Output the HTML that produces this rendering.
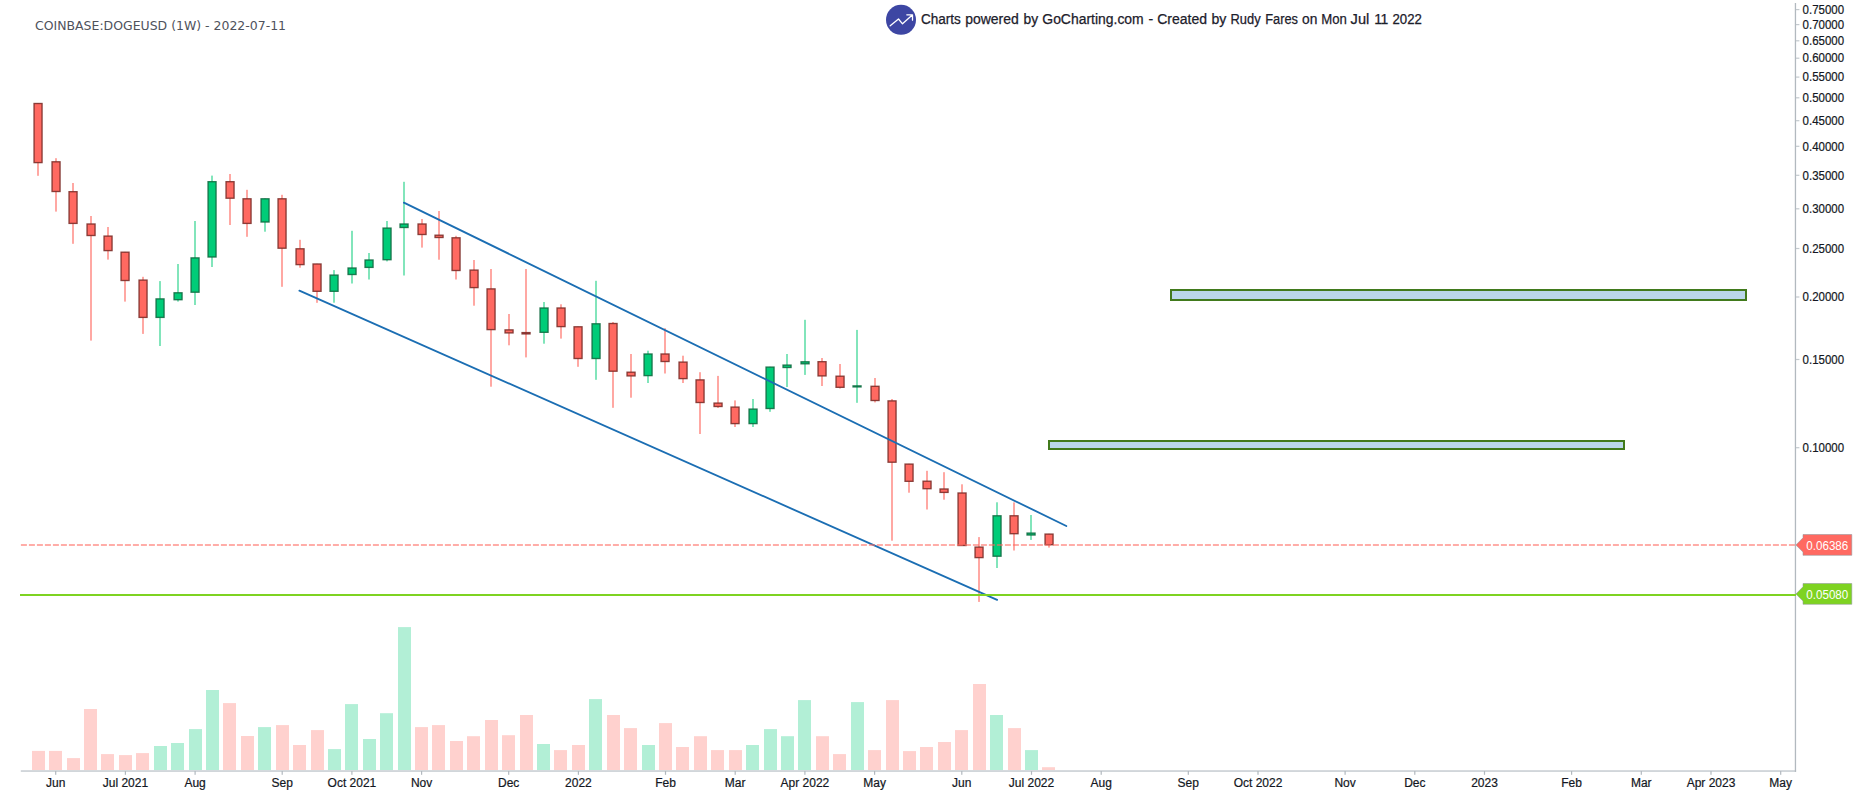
<!DOCTYPE html>
<html lang="en"><head><meta charset="utf-8"><title>COINBASE:DOGEUSD (1W) - 2022-07-11</title>
<style>
html,body{margin:0;padding:0;background:#fff;}
body{width:1856px;height:804px;overflow:hidden;position:relative;}
svg{position:absolute;left:0;top:0;display:block;}
.ax{font-family:"Liberation Sans",sans-serif;font-size:12px;fill:#131722;stroke:#131722;stroke-width:0.2px;}
.hd{font-family:"Liberation Sans",sans-serif;font-size:14px;fill:#1c202b;stroke:#1c202b;stroke-width:0.25px;}
.tt{font-family:"DejaVu Sans","Liberation Sans",sans-serif;font-size:12px;fill:#4f525c;}
.tg{font-family:"Liberation Sans",sans-serif;font-size:12px;fill:#fff;}
</style></head><body>
<svg width="1856" height="804" viewBox="0 0 1856 804">
<rect x="0" y="0" width="1856" height="804" fill="#ffffff"/>

<g id="volume">
<rect x="32.0" y="750.9" width="13" height="19.3" fill="#ffd1ce"/>
<rect x="49.0" y="750.9" width="13" height="19.3" fill="#ffd1ce"/>
<rect x="67.0" y="758.1" width="13" height="12.1" fill="#ffd1ce"/>
<rect x="84.0" y="709.0" width="13" height="61.2" fill="#ffd1ce"/>
<rect x="101.0" y="754.1" width="13" height="16.1" fill="#ffd1ce"/>
<rect x="119.0" y="755.1" width="13" height="15.1" fill="#ffd1ce"/>
<rect x="136.0" y="753.1" width="13" height="17.1" fill="#ffd1ce"/>
<rect x="154.0" y="746.0" width="13" height="24.2" fill="#b2efd6"/>
<rect x="171.0" y="743.0" width="13" height="27.2" fill="#b2efd6"/>
<rect x="189.0" y="729.1" width="13" height="41.1" fill="#b2efd6"/>
<rect x="206.0" y="690.0" width="13" height="80.2" fill="#b2efd6"/>
<rect x="223.0" y="703.1" width="13" height="67.1" fill="#ffd1ce"/>
<rect x="241.0" y="736.0" width="13" height="34.2" fill="#ffd1ce"/>
<rect x="258.0" y="727.1" width="13" height="43.1" fill="#b2efd6"/>
<rect x="276.0" y="725.1" width="13" height="45.1" fill="#ffd1ce"/>
<rect x="293.0" y="745.0" width="13" height="25.2" fill="#ffd1ce"/>
<rect x="311.0" y="730.1" width="13" height="40.1" fill="#ffd1ce"/>
<rect x="328.0" y="749.1" width="13" height="21.1" fill="#b2efd6"/>
<rect x="345.0" y="704.1" width="13" height="66.1" fill="#b2efd6"/>
<rect x="363.0" y="739.0" width="13" height="31.2" fill="#b2efd6"/>
<rect x="380.0" y="713.2" width="13" height="57.0" fill="#b2efd6"/>
<rect x="398.0" y="627.1" width="13" height="143.1" fill="#b2efd6"/>
<rect x="415.0" y="727.1" width="13" height="43.1" fill="#ffd1ce"/>
<rect x="432.0" y="725.1" width="13" height="45.1" fill="#ffd1ce"/>
<rect x="450.0" y="741.0" width="13" height="29.2" fill="#ffd1ce"/>
<rect x="467.0" y="736.2" width="13" height="34.0" fill="#ffd1ce"/>
<rect x="485.0" y="720.0" width="13" height="50.2" fill="#ffd1ce"/>
<rect x="502.0" y="735.2" width="13" height="35.0" fill="#ffd1ce"/>
<rect x="520.0" y="715.0" width="13" height="55.2" fill="#ffd1ce"/>
<rect x="537.0" y="744.0" width="13" height="26.2" fill="#b2efd6"/>
<rect x="554.0" y="750.1" width="13" height="20.1" fill="#ffd1ce"/>
<rect x="572.0" y="745.0" width="13" height="25.2" fill="#ffd1ce"/>
<rect x="589.0" y="699.1" width="13" height="71.1" fill="#b2efd6"/>
<rect x="607.0" y="715.0" width="13" height="55.2" fill="#ffd1ce"/>
<rect x="624.0" y="728.1" width="13" height="42.1" fill="#ffd1ce"/>
<rect x="642.0" y="745.0" width="13" height="25.2" fill="#b2efd6"/>
<rect x="659.0" y="723.1" width="13" height="47.1" fill="#ffd1ce"/>
<rect x="676.0" y="747.0" width="13" height="23.2" fill="#ffd1ce"/>
<rect x="694.0" y="736.2" width="13" height="34.0" fill="#ffd1ce"/>
<rect x="711.0" y="750.1" width="13" height="20.1" fill="#ffd1ce"/>
<rect x="729.0" y="750.1" width="13" height="20.1" fill="#ffd1ce"/>
<rect x="746.0" y="745.0" width="13" height="25.2" fill="#b2efd6"/>
<rect x="764.0" y="729.1" width="13" height="41.1" fill="#b2efd6"/>
<rect x="781.0" y="736.2" width="13" height="34.0" fill="#b2efd6"/>
<rect x="798.0" y="700.1" width="13" height="70.1" fill="#b2efd6"/>
<rect x="816.0" y="736.2" width="13" height="34.0" fill="#ffd1ce"/>
<rect x="833.0" y="754.1" width="13" height="16.1" fill="#ffd1ce"/>
<rect x="851.0" y="702.1" width="13" height="68.1" fill="#b2efd6"/>
<rect x="868.0" y="750.1" width="13" height="20.1" fill="#ffd1ce"/>
<rect x="886.0" y="700.1" width="13" height="70.1" fill="#ffd1ce"/>
<rect x="903.0" y="751.1" width="13" height="19.1" fill="#ffd1ce"/>
<rect x="920.0" y="747.0" width="13" height="23.2" fill="#ffd1ce"/>
<rect x="938.0" y="742.0" width="13" height="28.2" fill="#ffd1ce"/>
<rect x="955.0" y="730.1" width="13" height="40.1" fill="#ffd1ce"/>
<rect x="973.0" y="684.0" width="13" height="86.2" fill="#ffd1ce"/>
<rect x="990.0" y="715.0" width="13" height="55.2" fill="#b2efd6"/>
<rect x="1008.0" y="728.1" width="13" height="42.1" fill="#ffd1ce"/>
<rect x="1025.0" y="750.1" width="13" height="20.1" fill="#b2efd6"/>
<rect x="1042.0" y="767.2" width="13" height="3.0" fill="#ffd1ce"/>
</g>
<g id="axes">
<rect x="20.8" y="770.2" width="1775.3" height="1.7" fill="#ccd2d6"/>
<rect x="1794.8" y="3" width="1.3" height="768.9" fill="#b2b9bf"/>
</g>
<g id="xaxis">
<rect x="55.1" y="771" width="1.2" height="3.8" fill="#b2b9bf"/>
<text class="ax" x="55.7" y="787" text-anchor="middle">Jun</text>
<rect x="124.8" y="771" width="1.2" height="3.8" fill="#b2b9bf"/>
<text class="ax" x="125.4" y="787" text-anchor="middle">Jul 2021</text>
<rect x="194.5" y="771" width="1.2" height="3.8" fill="#b2b9bf"/>
<text class="ax" x="195.1" y="787" text-anchor="middle">Aug</text>
<rect x="281.6" y="771" width="1.2" height="3.8" fill="#b2b9bf"/>
<text class="ax" x="282.2" y="787" text-anchor="middle">Sep</text>
<rect x="351.3" y="771" width="1.2" height="3.8" fill="#b2b9bf"/>
<text class="ax" x="351.9" y="787" text-anchor="middle">Oct 2021</text>
<rect x="421.0" y="771" width="1.2" height="3.8" fill="#b2b9bf"/>
<text class="ax" x="421.6" y="787" text-anchor="middle">Nov</text>
<rect x="508.1" y="771" width="1.2" height="3.8" fill="#b2b9bf"/>
<text class="ax" x="508.7" y="787" text-anchor="middle">Dec</text>
<rect x="577.8" y="771" width="1.2" height="3.8" fill="#b2b9bf"/>
<text class="ax" x="578.4" y="787" text-anchor="middle">2022</text>
<rect x="664.9" y="771" width="1.2" height="3.8" fill="#b2b9bf"/>
<text class="ax" x="665.5" y="787" text-anchor="middle">Feb</text>
<rect x="734.6" y="771" width="1.2" height="3.8" fill="#b2b9bf"/>
<text class="ax" x="735.2" y="787" text-anchor="middle">Mar</text>
<rect x="804.3" y="771" width="1.2" height="3.8" fill="#b2b9bf"/>
<text class="ax" x="804.9" y="787" text-anchor="middle">Apr 2022</text>
<rect x="874.0" y="771" width="1.2" height="3.8" fill="#b2b9bf"/>
<text class="ax" x="874.6" y="787" text-anchor="middle">May</text>
<rect x="961.2" y="771" width="1.2" height="3.8" fill="#b2b9bf"/>
<text class="ax" x="961.8" y="787" text-anchor="middle">Jun</text>
<rect x="1030.9" y="771" width="1.2" height="3.8" fill="#b2b9bf"/>
<text class="ax" x="1031.5" y="787" text-anchor="middle">Jul 2022</text>
<rect x="1100.6" y="771" width="1.2" height="3.8" fill="#b2b9bf"/>
<text class="ax" x="1101.2" y="787" text-anchor="middle">Aug</text>
<rect x="1187.7" y="771" width="1.2" height="3.8" fill="#b2b9bf"/>
<text class="ax" x="1188.3" y="787" text-anchor="middle">Sep</text>
<rect x="1257.4" y="771" width="1.2" height="3.8" fill="#b2b9bf"/>
<text class="ax" x="1258.0" y="787" text-anchor="middle">Oct 2022</text>
<rect x="1344.5" y="771" width="1.2" height="3.8" fill="#b2b9bf"/>
<text class="ax" x="1345.1" y="787" text-anchor="middle">Nov</text>
<rect x="1414.2" y="771" width="1.2" height="3.8" fill="#b2b9bf"/>
<text class="ax" x="1414.8" y="787" text-anchor="middle">Dec</text>
<rect x="1483.9" y="771" width="1.2" height="3.8" fill="#b2b9bf"/>
<text class="ax" x="1484.5" y="787" text-anchor="middle">2023</text>
<rect x="1571.0" y="771" width="1.2" height="3.8" fill="#b2b9bf"/>
<text class="ax" x="1571.6" y="787" text-anchor="middle">Feb</text>
<rect x="1640.7" y="771" width="1.2" height="3.8" fill="#b2b9bf"/>
<text class="ax" x="1641.3" y="787" text-anchor="middle">Mar</text>
<rect x="1710.4" y="771" width="1.2" height="3.8" fill="#b2b9bf"/>
<text class="ax" x="1711.0" y="787" text-anchor="middle">Apr 2023</text>
<rect x="1780.1" y="771" width="1.2" height="3.8" fill="#b2b9bf"/>
<text class="ax" x="1780.7" y="787" text-anchor="middle">May</text>
</g>
<g id="yaxis">
<rect x="1796" y="9.0" width="3.4" height="1.2" fill="#c3c9ce"/>
<text class="ax" x="1802.6" y="13.8" textLength="41.5" lengthAdjust="spacingAndGlyphs">0.75000</text>
<rect x="1796" y="24.0" width="3.4" height="1.2" fill="#c3c9ce"/>
<text class="ax" x="1802.6" y="28.8" textLength="41.5" lengthAdjust="spacingAndGlyphs">0.70000</text>
<rect x="1796" y="40.2" width="3.4" height="1.2" fill="#c3c9ce"/>
<text class="ax" x="1802.6" y="45.0" textLength="41.5" lengthAdjust="spacingAndGlyphs">0.65000</text>
<rect x="1796" y="57.6" width="3.4" height="1.2" fill="#c3c9ce"/>
<text class="ax" x="1802.6" y="62.4" textLength="41.5" lengthAdjust="spacingAndGlyphs">0.60000</text>
<rect x="1796" y="76.5" width="3.4" height="1.2" fill="#c3c9ce"/>
<text class="ax" x="1802.6" y="81.3" textLength="41.5" lengthAdjust="spacingAndGlyphs">0.55000</text>
<rect x="1796" y="97.2" width="3.4" height="1.2" fill="#c3c9ce"/>
<text class="ax" x="1802.6" y="102.0" textLength="41.5" lengthAdjust="spacingAndGlyphs">0.50000</text>
<rect x="1796" y="120.1" width="3.4" height="1.2" fill="#c3c9ce"/>
<text class="ax" x="1802.6" y="124.9" textLength="41.5" lengthAdjust="spacingAndGlyphs">0.45000</text>
<rect x="1796" y="145.7" width="3.4" height="1.2" fill="#c3c9ce"/>
<text class="ax" x="1802.6" y="150.5" textLength="41.5" lengthAdjust="spacingAndGlyphs">0.40000</text>
<rect x="1796" y="174.7" width="3.4" height="1.2" fill="#c3c9ce"/>
<text class="ax" x="1802.6" y="179.5" textLength="41.5" lengthAdjust="spacingAndGlyphs">0.35000</text>
<rect x="1796" y="208.2" width="3.4" height="1.2" fill="#c3c9ce"/>
<text class="ax" x="1802.6" y="213.0" textLength="41.5" lengthAdjust="spacingAndGlyphs">0.30000</text>
<rect x="1796" y="247.9" width="3.4" height="1.2" fill="#c3c9ce"/>
<text class="ax" x="1802.6" y="252.7" textLength="41.5" lengthAdjust="spacingAndGlyphs">0.25000</text>
<rect x="1796" y="296.4" width="3.4" height="1.2" fill="#c3c9ce"/>
<text class="ax" x="1802.6" y="301.2" textLength="41.5" lengthAdjust="spacingAndGlyphs">0.20000</text>
<rect x="1796" y="358.9" width="3.4" height="1.2" fill="#c3c9ce"/>
<text class="ax" x="1802.6" y="363.7" textLength="41.5" lengthAdjust="spacingAndGlyphs">0.15000</text>
<rect x="1796" y="447.1" width="3.4" height="1.2" fill="#c3c9ce"/>
<text class="ax" x="1802.6" y="451.9" textLength="41.5" lengthAdjust="spacingAndGlyphs">0.10000</text>
</g>
<g id="zones">
<rect x="1171" y="290" width="575" height="10" fill="#bad7ea" stroke="#417a1c" stroke-width="2"/>
<rect x="1049" y="441" width="575" height="8" fill="#bad7ea" stroke="#417a1c" stroke-width="2"/>
</g>
<g id="candles">
<rect x="37" y="103.2" width="2" height="72.6" fill="#ffa8a3"/>
<rect x="34.05" y="103.5" width="8.0" height="59.1" fill="#ff6961" stroke="#7a2b27" stroke-opacity="0.88" stroke-width="1.35"/>
<rect x="55" y="158.2" width="2" height="53.4" fill="#ffa8a3"/>
<rect x="52.05" y="161.8" width="8.0" height="29.7" fill="#ff6961" stroke="#7a2b27" stroke-opacity="0.88" stroke-width="1.35"/>
<rect x="72" y="183.0" width="2" height="60.8" fill="#ffa8a3"/>
<rect x="69.05" y="191.7" width="8.0" height="31.7" fill="#ff6961" stroke="#7a2b27" stroke-opacity="0.88" stroke-width="1.35"/>
<rect x="90" y="216.0" width="2" height="124.6" fill="#ffa8a3"/>
<rect x="87.05" y="224.0" width="8.0" height="11.5" fill="#ff6961" stroke="#7a2b27" stroke-opacity="0.88" stroke-width="1.35"/>
<rect x="107" y="227.0" width="2" height="32.6" fill="#ffa8a3"/>
<rect x="104.05" y="236.1" width="8.0" height="14.5" fill="#ff6961" stroke="#7a2b27" stroke-opacity="0.88" stroke-width="1.35"/>
<rect x="124" y="251.9" width="2" height="49.7" fill="#ffa8a3"/>
<rect x="121.05" y="252.2" width="8.0" height="28.3" fill="#ff6961" stroke="#7a2b27" stroke-opacity="0.88" stroke-width="1.35"/>
<rect x="142" y="276.8" width="2" height="57.1" fill="#ffa8a3"/>
<rect x="139.05" y="280.1" width="8.0" height="37.3" fill="#ff6961" stroke="#7a2b27" stroke-opacity="0.88" stroke-width="1.35"/>
<rect x="159" y="281.1" width="2" height="64.9" fill="#82e5bb"/>
<rect x="156.05" y="298.9" width="8.0" height="18.5" fill="#00cc78" stroke="#0f6a40" stroke-opacity="0.88" stroke-width="1.35"/>
<rect x="177" y="264.0" width="2" height="37.6" fill="#82e5bb"/>
<rect x="174.05" y="292.8" width="8.0" height="6.9" fill="#00cc78" stroke="#0f6a40" stroke-opacity="0.88" stroke-width="1.35"/>
<rect x="194" y="221.0" width="2" height="84.0" fill="#82e5bb"/>
<rect x="191.05" y="257.9" width="8.0" height="34.3" fill="#00cc78" stroke="#0f6a40" stroke-opacity="0.88" stroke-width="1.35"/>
<rect x="211" y="175.6" width="2" height="91.4" fill="#82e5bb"/>
<rect x="208.05" y="181.7" width="8.0" height="75.3" fill="#00cc78" stroke="#0f6a40" stroke-opacity="0.88" stroke-width="1.35"/>
<rect x="229" y="174.0" width="2" height="51.0" fill="#ffa8a3"/>
<rect x="226.05" y="181.7" width="8.0" height="16.5" fill="#ff6961" stroke="#7a2b27" stroke-opacity="0.88" stroke-width="1.35"/>
<rect x="246" y="189.8" width="2" height="47.0" fill="#ffa8a3"/>
<rect x="243.05" y="198.8" width="8.0" height="24.6" fill="#ff6961" stroke="#7a2b27" stroke-opacity="0.88" stroke-width="1.35"/>
<rect x="264" y="198.5" width="2" height="33.2" fill="#82e5bb"/>
<rect x="261.05" y="198.8" width="8.0" height="23.2" fill="#00cc78" stroke="#0f6a40" stroke-opacity="0.88" stroke-width="1.35"/>
<rect x="281" y="194.8" width="2" height="92.0" fill="#ffa8a3"/>
<rect x="278.05" y="198.8" width="8.0" height="49.4" fill="#ff6961" stroke="#7a2b27" stroke-opacity="0.88" stroke-width="1.35"/>
<rect x="299" y="239.8" width="2" height="27.9" fill="#ffa8a3"/>
<rect x="296.05" y="248.8" width="8.0" height="15.8" fill="#ff6961" stroke="#7a2b27" stroke-opacity="0.88" stroke-width="1.35"/>
<rect x="316" y="263.7" width="2" height="39.1" fill="#ffa8a3"/>
<rect x="313.05" y="264.0" width="8.0" height="27.3" fill="#ff6961" stroke="#7a2b27" stroke-opacity="0.88" stroke-width="1.35"/>
<rect x="333" y="270.1" width="2" height="32.6" fill="#82e5bb"/>
<rect x="330.05" y="275.1" width="8.0" height="16.2" fill="#00cc78" stroke="#0f6a40" stroke-opacity="0.88" stroke-width="1.35"/>
<rect x="351" y="230.8" width="2" height="52.7" fill="#82e5bb"/>
<rect x="348.05" y="268.0" width="8.0" height="6.5" fill="#00cc78" stroke="#0f6a40" stroke-opacity="0.88" stroke-width="1.35"/>
<rect x="368" y="253.0" width="2" height="26.5" fill="#82e5bb"/>
<rect x="365.05" y="260.0" width="8.0" height="7.4" fill="#00cc78" stroke="#0f6a40" stroke-opacity="0.88" stroke-width="1.35"/>
<rect x="386" y="221.0" width="2" height="40.4" fill="#82e5bb"/>
<rect x="383.05" y="228.1" width="8.0" height="31.6" fill="#00cc78" stroke="#0f6a40" stroke-opacity="0.88" stroke-width="1.35"/>
<rect x="403" y="181.8" width="2" height="93.7" fill="#82e5bb"/>
<rect x="400.05" y="224.0" width="8.0" height="3.5" fill="#00cc78" stroke="#0f6a40" stroke-opacity="0.88" stroke-width="1.35"/>
<rect x="421" y="219.0" width="2" height="28.6" fill="#ffa8a3"/>
<rect x="418.05" y="224.0" width="8.0" height="10.5" fill="#ff6961" stroke="#7a2b27" stroke-opacity="0.88" stroke-width="1.35"/>
<rect x="438" y="211.0" width="2" height="48.7" fill="#ffa8a3"/>
<rect x="435.05" y="235.2" width="8.0" height="2.3" fill="#ff6961" stroke="#7a2b27" stroke-opacity="0.88" stroke-width="1.35"/>
<rect x="455" y="235.8" width="2" height="43.7" fill="#ffa8a3"/>
<rect x="452.05" y="237.8" width="8.0" height="32.7" fill="#ff6961" stroke="#7a2b27" stroke-opacity="0.88" stroke-width="1.35"/>
<rect x="473" y="260.0" width="2" height="45.7" fill="#ffa8a3"/>
<rect x="470.05" y="270.1" width="8.0" height="17.5" fill="#ff6961" stroke="#7a2b27" stroke-opacity="0.88" stroke-width="1.35"/>
<rect x="490" y="269.0" width="2" height="117.7" fill="#ffa8a3"/>
<rect x="487.05" y="288.9" width="8.0" height="40.7" fill="#ff6961" stroke="#7a2b27" stroke-opacity="0.88" stroke-width="1.35"/>
<rect x="508" y="314.0" width="2" height="31.3" fill="#ffa8a3"/>
<rect x="505.05" y="329.9" width="8.0" height="3.0" fill="#ff6961" stroke="#7a2b27" stroke-opacity="0.88" stroke-width="1.35"/>
<rect x="525" y="269.0" width="2" height="88.4" fill="#ffa8a3"/>
<rect x="522.05" y="332.6" width="8.0" height="1.3" fill="#ff6961" stroke="#7a2b27" stroke-opacity="0.88" stroke-width="1.35"/>
<rect x="543" y="302.0" width="2" height="41.7" fill="#82e5bb"/>
<rect x="540.05" y="308.0" width="8.0" height="24.3" fill="#00cc78" stroke="#0f6a40" stroke-opacity="0.88" stroke-width="1.35"/>
<rect x="560" y="304.3" width="2" height="34.3" fill="#ffa8a3"/>
<rect x="557.05" y="308.0" width="8.0" height="18.6" fill="#ff6961" stroke="#7a2b27" stroke-opacity="0.88" stroke-width="1.35"/>
<rect x="577" y="326.5" width="2" height="40.3" fill="#ffa8a3"/>
<rect x="574.05" y="326.8" width="8.0" height="31.7" fill="#ff6961" stroke="#7a2b27" stroke-opacity="0.88" stroke-width="1.35"/>
<rect x="595" y="280.8" width="2" height="99.0" fill="#82e5bb"/>
<rect x="592.05" y="323.8" width="8.0" height="34.7" fill="#00cc78" stroke="#0f6a40" stroke-opacity="0.88" stroke-width="1.35"/>
<rect x="612" y="322.0" width="2" height="85.8" fill="#ffa8a3"/>
<rect x="609.05" y="323.5" width="8.0" height="47.7" fill="#ff6961" stroke="#7a2b27" stroke-opacity="0.88" stroke-width="1.35"/>
<rect x="630" y="354.0" width="2" height="43.7" fill="#ffa8a3"/>
<rect x="627.05" y="372.2" width="8.0" height="3.7" fill="#ff6961" stroke="#7a2b27" stroke-opacity="0.88" stroke-width="1.35"/>
<rect x="647" y="350.7" width="2" height="32.3" fill="#82e5bb"/>
<rect x="644.05" y="354.0" width="8.0" height="21.6" fill="#00cc78" stroke="#0f6a40" stroke-opacity="0.88" stroke-width="1.35"/>
<rect x="664" y="328.2" width="2" height="45.3" fill="#ffa8a3"/>
<rect x="661.05" y="354.0" width="8.0" height="7.5" fill="#ff6961" stroke="#7a2b27" stroke-opacity="0.88" stroke-width="1.35"/>
<rect x="682" y="355.7" width="2" height="27.3" fill="#ffa8a3"/>
<rect x="679.05" y="362.1" width="8.0" height="16.5" fill="#ff6961" stroke="#7a2b27" stroke-opacity="0.88" stroke-width="1.35"/>
<rect x="699" y="372.2" width="2" height="61.8" fill="#ffa8a3"/>
<rect x="696.05" y="379.9" width="8.0" height="22.6" fill="#ff6961" stroke="#7a2b27" stroke-opacity="0.88" stroke-width="1.35"/>
<rect x="717" y="375.9" width="2" height="32.1" fill="#ffa8a3"/>
<rect x="714.05" y="403.1" width="8.0" height="3.4" fill="#ff6961" stroke="#7a2b27" stroke-opacity="0.88" stroke-width="1.35"/>
<rect x="734" y="400.4" width="2" height="26.6" fill="#ffa8a3"/>
<rect x="731.05" y="407.1" width="8.0" height="16.5" fill="#ff6961" stroke="#7a2b27" stroke-opacity="0.88" stroke-width="1.35"/>
<rect x="752" y="399.0" width="2" height="28.0" fill="#82e5bb"/>
<rect x="749.05" y="409.1" width="8.0" height="14.5" fill="#00cc78" stroke="#0f6a40" stroke-opacity="0.88" stroke-width="1.35"/>
<rect x="769" y="366.8" width="2" height="45.0" fill="#82e5bb"/>
<rect x="766.05" y="367.1" width="8.0" height="41.4" fill="#00cc78" stroke="#0f6a40" stroke-opacity="0.88" stroke-width="1.35"/>
<rect x="786" y="354.0" width="2" height="33.0" fill="#82e5bb"/>
<rect x="783.05" y="365.1" width="8.0" height="2.4" fill="#00cc78" stroke="#0f6a40" stroke-opacity="0.88" stroke-width="1.35"/>
<rect x="804" y="319.8" width="2" height="55.1" fill="#82e5bb"/>
<rect x="801.05" y="361.8" width="8.0" height="2.0" fill="#00cc78" stroke="#0f6a40" stroke-opacity="0.88" stroke-width="1.35"/>
<rect x="821" y="358.0" width="2" height="28.0" fill="#ffa8a3"/>
<rect x="818.05" y="361.7" width="8.0" height="14.2" fill="#ff6961" stroke="#7a2b27" stroke-opacity="0.88" stroke-width="1.35"/>
<rect x="839" y="364.0" width="2" height="24.6" fill="#ffa8a3"/>
<rect x="836.05" y="376.2" width="8.0" height="11.1" fill="#ff6961" stroke="#7a2b27" stroke-opacity="0.88" stroke-width="1.35"/>
<rect x="856" y="329.9" width="2" height="72.9" fill="#82e5bb"/>
<rect x="853.05" y="385.9" width="8.0" height="1.0" fill="#00cc78" stroke="#0f6a40" stroke-opacity="0.88" stroke-width="1.35"/>
<rect x="874" y="378.0" width="2" height="24.4" fill="#ffa8a3"/>
<rect x="871.05" y="386.3" width="8.0" height="14.2" fill="#ff6961" stroke="#7a2b27" stroke-opacity="0.88" stroke-width="1.35"/>
<rect x="891" y="399.0" width="2" height="141.7" fill="#ffa8a3"/>
<rect x="888.05" y="400.9" width="8.0" height="61.3" fill="#ff6961" stroke="#7a2b27" stroke-opacity="0.88" stroke-width="1.35"/>
<rect x="908" y="463.8" width="2" height="28.9" fill="#ffa8a3"/>
<rect x="905.05" y="464.1" width="8.0" height="17.2" fill="#ff6961" stroke="#7a2b27" stroke-opacity="0.88" stroke-width="1.35"/>
<rect x="926" y="470.8" width="2" height="38.7" fill="#ffa8a3"/>
<rect x="923.05" y="481.2" width="8.0" height="7.5" fill="#ff6961" stroke="#7a2b27" stroke-opacity="0.88" stroke-width="1.35"/>
<rect x="943" y="472.2" width="2" height="27.5" fill="#ffa8a3"/>
<rect x="940.05" y="489.0" width="8.0" height="3.4" fill="#ff6961" stroke="#7a2b27" stroke-opacity="0.88" stroke-width="1.35"/>
<rect x="961" y="484.3" width="2" height="61.5" fill="#ffa8a3"/>
<rect x="958.05" y="493.0" width="8.0" height="52.5" fill="#ff6961" stroke="#7a2b27" stroke-opacity="0.88" stroke-width="1.35"/>
<rect x="978" y="537.1" width="2" height="64.8" fill="#ffa8a3"/>
<rect x="975.05" y="547.1" width="8.0" height="10.5" fill="#ff6961" stroke="#7a2b27" stroke-opacity="0.88" stroke-width="1.35"/>
<rect x="996" y="502.3" width="2" height="65.7" fill="#82e5bb"/>
<rect x="993.05" y="515.8" width="8.0" height="40.4" fill="#00cc78" stroke="#0f6a40" stroke-opacity="0.88" stroke-width="1.35"/>
<rect x="1013" y="502.4" width="2" height="48.1" fill="#ffa8a3"/>
<rect x="1010.05" y="515.8" width="8.0" height="17.9" fill="#ff6961" stroke="#7a2b27" stroke-opacity="0.88" stroke-width="1.35"/>
<rect x="1030" y="515.0" width="2" height="24.9" fill="#82e5bb"/>
<rect x="1027.05" y="533.1" width="8.0" height="1.9" fill="#00cc78" stroke="#0f6a40" stroke-opacity="0.88" stroke-width="1.35"/>
<rect x="1048" y="533.8" width="2" height="13.8" fill="#ffa8a3"/>
<rect x="1045.05" y="534.1" width="8.0" height="10.6" fill="#ff6961" stroke="#7a2b27" stroke-opacity="0.88" stroke-width="1.35"/>
</g>
<g id="channel" stroke="#1b6eb3" stroke-width="1.85" stroke-linecap="round">
<line x1="403.9" y1="202.6" x2="1066.3" y2="526"/>
<line x1="299.4" y1="290.6" x2="997.1" y2="599.8"/>
</g>
<g id="pricelines">
<line x1="20.9" y1="545" x2="1796" y2="545" stroke="#ff6961" stroke-opacity="0.55" stroke-width="2" stroke-dasharray="6 2"/>
<rect x="20" y="594" width="1776" height="2" fill="#7ed321"/>
</g>
<g id="tags">
<path d="M1795.9 545 L1803 537.8 L1803 534.5 L1851.8 534.5 L1851.8 555.3 L1803 555.3 L1803 552.1 Z" fill="#ff6961" stroke="#8f979c" stroke-width="0.7" stroke-opacity="0.8"/>
<text class="tg" x="1806.3" y="550.2" textLength="42" lengthAdjust="spacingAndGlyphs">0.06386</text>
<path d="M1795.9 594 L1803 586.8 L1803 583.5 L1851.8 583.5 L1851.8 604.3 L1803 604.3 L1803 601.1 Z" fill="#7ed321" stroke="#8f979c" stroke-width="0.7" stroke-opacity="0.8"/>
<text class="tg" x="1806.3" y="599.3" textLength="42" lengthAdjust="spacingAndGlyphs">0.05080</text>
</g>
<g id="header">
<text class="tt" x="35" y="30" textLength="251" lengthAdjust="spacingAndGlyphs">COINBASE:DOGEUSD (1W) - 2022-07-11</text>
<circle cx="901" cy="19.8" r="15" fill="#3d46a3"/>
<path d="M890.2 25.8 L898.5 19 L902.5 23.8 L912 15.2 M906.8 14.8 L912.5 14.8 L912.5 20.2" fill="none" stroke="#fff" stroke-width="1.3" stroke-linecap="round" stroke-linejoin="round"/>
<text class="hd" y="23.9" style="white-space:pre"><tspan x="920.9" textLength="39.9" lengthAdjust="spacingAndGlyphs">Charts</tspan> <tspan x="965.2" textLength="53.6" lengthAdjust="spacingAndGlyphs">powered</tspan> <tspan x="1023.6" textLength="14.6" lengthAdjust="spacingAndGlyphs">by</tspan> <tspan x="1042.3" textLength="101.4" lengthAdjust="spacingAndGlyphs">GoCharting.com</tspan> <tspan x="1148.4">-</tspan> <tspan x="1157.2" textLength="49.9" lengthAdjust="spacingAndGlyphs">Created</tspan> <tspan x="1211.5" textLength="14.9" lengthAdjust="spacingAndGlyphs">by</tspan> <tspan x="1230.5" textLength="30.1" lengthAdjust="spacingAndGlyphs">Rudy</tspan> <tspan x="1265.2" textLength="32.8" lengthAdjust="spacingAndGlyphs">Fares</tspan> <tspan x="1302.1" textLength="15.3" lengthAdjust="spacingAndGlyphs">on</tspan> <tspan x="1321.2" textLength="25.6" lengthAdjust="spacingAndGlyphs">Mon</tspan> <tspan x="1350.6" textLength="18.7" lengthAdjust="spacingAndGlyphs">Jul</tspan> <tspan x="1374.2" textLength="14" lengthAdjust="spacing">11</tspan> <tspan x="1392.5" textLength="29.4" lengthAdjust="spacingAndGlyphs">2022</tspan></text>
</g>
</svg>
</body></html>
